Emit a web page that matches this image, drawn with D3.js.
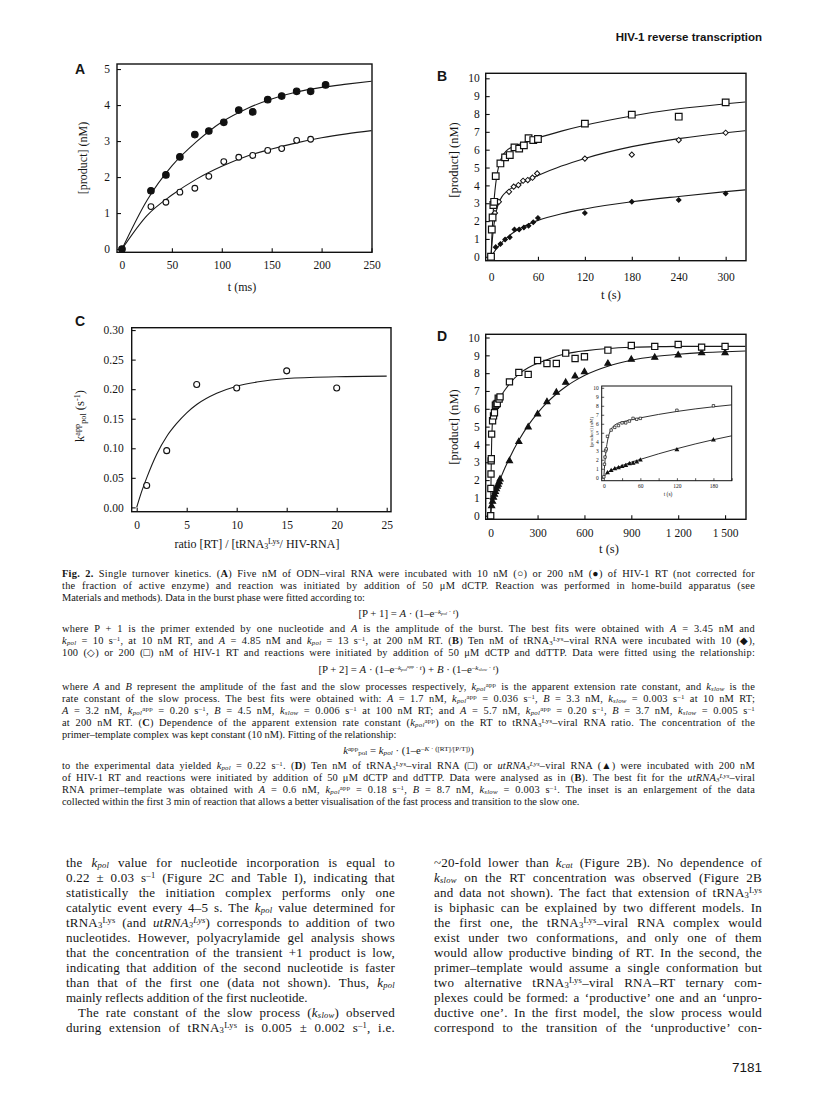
<!DOCTYPE html>
<html lang="en">
<head>
<meta charset="utf-8">
<title>HIV-1 reverse transcription - Fig. 2</title>
<script src="https://d3js.org/d3.v7.min.js"></script>
<style>
  body { margin: 0; background: #fff; }
  svg text { font-family: "Liberation Serif", "Times New Roman", serif; fill: #151515; white-space: pre; }
  svg text.sans { font-family: "Liberation Sans", Arial, sans-serif; font-weight: bold; }
  .axis path { display: none; }
  .axis line { stroke: #111; stroke-width: 1.1; }
</style>
</head>
<body>
<script>
// ---- Panel A : ODN-viral RNA, t in ms ----
var aHighTime = [0, 29, 44, 58, 73, 87, 102, 117, 131, 146, 160, 175, 189, 204];
var aHigh = [0, 1.62, 2.06, 2.56, 3.18, 3.28, 3.52, 3.86, 3.81, 4.15, 4.25, 4.38, 4.38, 4.56]; // 200 nM RT
var aLowTime = [29, 44, 58, 73, 87, 102, 117, 131, 146, 160, 175, 189];
var aLow = [1.18, 1.30, 1.58, 1.69, 2.02, 2.43, 2.55, 2.60, 2.74, 2.79, 3.02, 3.05]; // 10 nM RT
var aFitTime = [0, 25, 50, 75, 100, 125, 150, 175, 200, 225, 250];
var aFitHigh = [0, 1.35, 2.31, 2.99, 3.53, 3.9, 4.17, 4.36, 4.49, 4.58, 4.66];
var aFitLow = [0, 0.93, 1.5, 1.95, 2.3, 2.58, 2.78, 2.95, 3.09, 3.2, 3.29];
var aXTicks = [0, 50, 100, 150, 200, 250];
var aYTicks = [0, 1, 2, 3, 4, 5];

// ---- Panel B : tRNA3Lys-viral RNA, t in s ----
var b200Time = [0, 1, 2, 3, 4, 6, 12, 18, 24, 30, 36, 42, 48, 54, 60, 120, 180, 240, 300];
var b200 = [0, 1.53, 2.2, 2.9, 3.08, 4.52, 5.23, 5.57, 5.7, 6.13, 6.06, 6.24, 6.64, 6.54, 6.6, 7.46, 7.96, 7.85, 8.65];
var b100Time = [2, 5, 10, 23, 29, 35, 41, 47, 53, 59, 120, 180, 240, 300];
var b100 = [2.3, 2.45, 3.08, 3.64, 3.93, 4.02, 4.26, 4.3, 4.43, 4.67, 5.5, 5.72, 6.54, 6.95];
var b10Time = [0, 6, 12, 18, 24, 30, 36, 42, 48, 54, 60, 120, 180, 240, 300];
var b10 = [0, 0.54, 0.71, 0.97, 1.1, 1.53, 1.53, 1.64, 1.74, 1.94, 2.17, 2.45, 3.08, 3.18, 3.55];
var bFitTime = [0, 1, 2, 3, 4, 5, 7, 10, 14, 20, 30, 45, 60, 90, 120, 180, 240, 300, 325];
var bFit200 = [0, 1.05, 1.92, 2.62, 3.21, 3.69, 4.42, 5.11, 5.6, 5.95, 6.2, 6.44, 6.66, 7.04, 7.37, 7.89, 8.29, 8.57, 8.67];
var bFit100 = [0, 0.61, 1.11, 1.52, 1.87, 2.15, 2.6, 3.03, 3.37, 3.65, 3.94, 4.26, 4.55, 5.08, 5.51, 6.17, 6.62, 6.95, 7.06];
var bFit10 = [0, 0.07, 0.14, 0.2, 0.27, 0.33, 0.45, 0.61, 0.81, 1.06, 1.4, 1.77, 2.04, 2.41, 2.68, 3.08, 3.38, 3.65, 3.75];
var bXTicks = [0, 60, 120, 180, 240, 300];
var bYTicks = [0, 1, 2, 3, 4, 5, 6, 7, 8, 9, 10];

// ---- Panel C : kpol app vs ratio ----
var cRatio = [1, 3, 6, 10, 15, 20];
var cK = [0.037, 0.096, 0.208, 0.202, 0.231, 0.202];
var cFitRatio = [0, 0.5, 1, 2, 3, 4, 5, 6, 8, 10, 12, 15, 20, 25];
var cFitK = [0, 0.027, 0.05, 0.09, 0.12, 0.142, 0.16, 0.174, 0.193, 0.205, 0.212, 0.218, 0.221, 0.222];
var cXTicks = [0, 5, 10, 15, 20, 25];
var cYTicks = [0, 0.05, 0.10, 0.15, 0.20, 0.25, 0.30];

// ---- Panel D : tRNA vs utRNA, 200 nM RT ----
var dSqTime = [0, 1, 2, 3, 4, 6, 12, 18, 24, 30, 36, 42, 48, 54, 60, 120, 180, 240, 300, 360, 420, 480, 540, 600, 750, 900, 1050, 1200, 1350, 1500];
var dSq = [0, 1.53, 2.34, 3.08, 3.2, 4.58, 5.33, 5.6, 5.78, 6.2, 6.26, 6.3, 6.6, 6.55, 6.67, 7.51, 8.04, 7.93, 8.71, 8.54, 8.54, 9.12, 8.82, 8.92, 9.29, 9.55, 9.5, 9.61, 9.46, 9.5];
var dTriTime = [6, 12, 18, 24, 30, 36, 42, 48, 54, 60, 120, 180, 240, 300, 360, 420, 480, 540, 600, 750, 900, 1050, 1200, 1350, 1500];
var dTri = [0.55, 0.8, 1.03, 1.2, 1.35, 1.5, 1.65, 1.75, 1.9, 2.05, 3.08, 4.15, 4.97, 5.7, 6.39, 6.92, 7.48, 7.83, 8.07, 8.54, 8.77, 8.88, 9.01, 9.14, 9.14];
var dFitTime = [0, 2, 4, 6, 10, 15, 20, 30, 45, 60, 90, 120, 180, 240, 300, 360, 420, 480, 540, 600, 750, 900, 1050, 1200, 1350, 1500, 1630];
var dFitSq = [0, 1.92, 3.21, 4.09, 5.11, 5.69, 5.95, 6.2, 6.44, 6.66, 7.04, 7.4, 7.95, 8.3, 8.55, 8.75, 8.95, 9.08, 9.18, 9.25, 9.38, 9.45, 9.48, 9.5, 9.5, 9.5, 9.5];
var dFitTri = [0, 0.23, 0.41, 0.56, 0.76, 0.94, 1.09, 1.35, 1.73, 2.04, 2.66, 3.23, 4.23, 5.07, 5.76, 6.34, 6.83, 7.24, 7.58, 7.87, 8.39, 8.72, 8.93, 9.06, 9.15, 9.2, 9.24];
var dXTicks = [0, 300, 600, 900, 1200, 1500];
var dYTicks = [0, 1, 2, 3, 4, 5, 6, 7, 8, 9, 10];

// ---- inset of D : first 3 min ----
var inSqTime = [0, 1, 2, 3, 4, 6, 12, 18, 24, 30, 36, 42, 48, 54, 60, 120, 180];
var inSq = [0.1, 1.5, 2.3, 3.0, 3.2, 4.6, 5.3, 5.6, 5.8, 6.1, 6.1, 6.3, 6.6, 6.5, 6.6, 7.5, 8.0];
var inTriTime = [6, 12, 18, 24, 30, 36, 42, 48, 54, 60, 120, 180];
var inTri = [0.55, 0.8, 1.0, 1.1, 1.25, 1.35, 1.55, 1.6, 1.75, 1.95, 3.1, 4.2];
var inFitTime = [0, 1, 2, 3, 4, 5, 7, 10, 14, 20, 30, 45, 60, 90, 120, 180, 210];
var inFitSq = [0, 1.05, 1.92, 2.62, 3.21, 3.69, 4.42, 5.11, 5.6, 5.95, 6.2, 6.44, 6.66, 7.04, 7.37, 7.89, 8.1];
var inFitTri = [0, 0.13, 0.23, 0.33, 0.41, 0.49, 0.61, 0.76, 0.91, 1.09, 1.35, 1.73, 2.04, 2.66, 3.23, 4.23, 4.66];
var inXTicks = [0, 30, 60, 90, 120, 150, 180, 210];
var inYTicks = [0, 1, 2, 3, 4, 5, 6, 7, 8, 9, 10];

// caption lines: [markup, justify, baseline]
var captionLines = [
  ["@Fig. 2.@ Single turnover kinetics. (@A@) Five nM of ODN–viral RNA were incubated with 10 nM (○) or 200 nM (●) of HIV-1 RT (not corrected for", true, 577],
  ["the fraction of active enzyme) and reaction was initiated by addition of 50 μM dCTP. Reaction was performed in home-build apparatus (see", true, 589],
  ["Materials and methods). Data in the burst phase were fitted according to:", false, 601],
  ["where P + 1 is the primer extended by one nucleotide and *A* is the amplitude of the burst. The best fits were obtained with *A* = 3.45 nM and", true, 632],
  ["*k*_{*pol*} = 10 s^{–1}, at 10 nM RT, and *A* = 4.85 nM and *k*_{*pol*} = 13 s^{–1}, at 200 nM RT. (@B@) Ten nM of tRNA_{3}^{Lys}–viral RNA were incubated with 10 (◆),", true, 644],
  ["100 (◇) or 200 (□) nM of HIV-1 RT and reactions were initiated by addition of 50 μM dCTP and ddTTP. Data were fitted using the relationship:", true, 656],
  ["where *A* and *B* represent the amplitude of the fast and the slow processes respectively, *k*_{*pol*}^{app} is the apparent extension rate constant, and *k*_{*slow*} is the", true, 690],
  ["rate constant of the slow process. The best fits were obtained with: *A* = 1.7 nM, *k*_{*pol*}^{app} = 0.036 s^{–1}, *B* = 3.3 nM, *k*_{*slow*} = 0.003 s^{–1} at 10 nM RT;", true, 702],
  ["*A* = 3.2 nM, *k*_{*pol*}^{app} = 0.20 s^{–1}, *B* = 4.5 nM, *k*_{*slow*} = 0.006 s^{–1} at 100 nM RT; and *A* = 5.7 nM, *k*_{*pol*}^{app} = 0.20 s^{–1}, *B* = 3.7 nM, *k*_{*slow*} = 0.005 s^{–1}", true, 714],
  ["at 200 nM RT. (@C@) Dependence of the apparent extension rate constant (*k*_{*pol*}^{app}) on the RT to tRNA_{3}^{Lys}–viral RNA ratio. The concentration of the", true, 726],
  ["primer–template complex was kept constant (10 nM). Fitting of the relationship:", false, 738],
  ["to the experimental data yielded *k*_{*pol*} = 0.22 s^{–1}. (@D@) Ten nM of tRNA_{3}^{Lys}–viral RNA (□) or *utRNA*_{*3*}^{*Lys*}–viral RNA (▲) were incubated with 200 nM", true, 769],
  ["of HIV-1 RT and reactions were initiated by addition of 50 μM dCTP and ddTTP. Data were analysed as in (@B@). The best fit for the *utRNA*_{*3*}^{*Lys*}–viral", true, 781],
  ["RNA primer–template was obtained with *A* = 0.6 nM, *k*_{*pol*}^{app} = 0.18 s^{–1}, *B* = 8.7 nM, *k*_{*slow*} = 0.003 s^{–1}. The inset is an enlargement of the data", true, 793],
  ["collected within the first 3 min of reaction that allows a better visualisation of the fast process and transition to the slow one.", false, 805]
];
var equations = [
  ["[P + 1] = *A* · (1–e^{–*k*_{*pol*} · *t*})", 617],
  ["[P + 2] = *A* · (1–e^{–*k*_{*pol*}^{app} · *t*}) + *B* · (1–e^{–*k*_{*slow*} · *t*})", 673],
  ["*k*^{app}_{pol} = *k*_{*pol*} · (1–e^{–*K* · ([RT]/[P/T])})", 754]
];
var leftColumn = [
  ["the *k*_{*pol*} value for nucleotide incorporation is equal to", true],
  ["0.22 ± 0.03 s^{–1} (Figure 2C and Table I), indicating that", true],
  ["statistically the initiation complex performs only one", true],
  ["catalytic event every 4–5 s. The *k*_{*pol*} value determined for", true],
  ["tRNA_{3}^{Lys} (and *utRNA*_{*3*}^{*Lys*}) corresponds to addition of two", true],
  ["nucleotides. However, polyacrylamide gel analysis shows", true],
  ["that the concentration of the transient +1 product is low,", true],
  ["indicating that addition of the second nucleotide is faster", true],
  ["than that of the first one (data not shown). Thus, *k*_{*pol*}", true],
  ["mainly reflects addition of the first nucleotide.", false],
  ["The rate constant of the slow process (*k*_{*slow*}) observed", true, 12],
  ["during extension of tRNA_{3}^{Lys} is 0.005 ± 0.002 s^{–1}, i.e.", true]
];
var rightColumn = [
  ["~20-fold lower than *k*_{*cat*} (Figure 2B). No dependence of", true],
  ["*k*_{*slow*} on the RT concentration was observed (Figure 2B", true],
  ["and data not shown). The fact that extension of tRNA_{3}^{Lys}", true],
  ["is biphasic can be explained by two different models. In", true],
  ["the first one, the tRNA_{3}^{Lys}–viral RNA complex would", true],
  ["exist under two conformations, and only one of them", true],
  ["would allow productive binding of RT. In the second, the", true],
  ["primer–template would assume a single conformation but", true],
  ["two alternative tRNA_{3}^{Lys}–viral RNA–RT ternary com-", true],
  ["plexes could be formed: a ‘productive’ one and an ‘unpro-", true],
  ["ductive one’. In the first model, the slow process would", true],
  ["correspond to the transition of the ‘unproductive’ con-", true]
];

var svg = d3.select("body").append("svg")
  .attr("width", 816)
  .attr("height", 1104);

// small markup: ^{} super, _{} sub, *..* italic, @..@ bold
function rich(parent, str, o) {
  var t = parent.append("text")
    .attr("x", o.x).attr("y", o.y)
    .style("font-size", o.size + "px");
  if (o.anchor) t.attr("text-anchor", o.anchor);
  if (o.transform) t.attr("transform", o.transform);
  if (o.cls) t.attr("class", o.cls);
  var stack = [{shift: 0, size: o.size, it: false, bf: false}];
  var segs = [], buf = "";
  function top() { return stack[stack.length - 1]; }
  function flush() {
    if (!buf) return;
    var c = top();
    segs.push({text: buf, shift: c.shift, size: c.size, it: c.it, bf: c.bf});
    buf = "";
  }
  for (var i = 0; i < str.length; i++) {
    var ch = str[i];
    if ((ch === "^" || ch === "_") && str[i + 1] === "{") {
      flush();
      var c = top();
      stack.push({shift: c.shift + (ch === "^" ? -0.3 : 0.13) * c.size, size: c.size * 0.66, it: c.it, bf: c.bf});
      i++;
    } else if (ch === "}") { flush(); stack.pop(); }
    else if (ch === "*") { flush(); top().it = !top().it; }
    else if (ch === "@") { flush(); top().bf = !top().bf; }
    else buf += ch;
  }
  flush();
  var prevShift = 0;
  segs.forEach(function(s) {
    var ts = t.append("tspan").text(s.text).style("font-size", s.size + "px");
    if (s.shift !== prevShift) ts.attr("dy", s.shift - prevShift);
    if (s.it) ts.style("font-style", "italic");
    if (s.bf) ts.style("font-weight", "bold");
    prevShift = s.shift;
  });
  if (o.width) {
    // justify: part of the gap to letters, the rest to word spaces
    var natural = t.node().getComputedTextLength();
    var txt = t.text();
    var spaces = (txt.match(/ /g) || []).length;
    var extra = o.width - natural;
    var ls = 0;
    if (extra > 0) {
      ls = Math.min(0.25, extra * 0.35 / txt.length);
      t.attr("letter-spacing", ls);
      extra = o.width - t.node().getComputedTextLength();
    }
    if (spaces) t.attr("word-spacing", extra / spaces);
  }
  return t;
}

function drawPanel(p) {
  var x = d3.scaleLinear().domain(p.xDomain).range([p.left, p.right]);
  var y = d3.scaleLinear().domain(p.yDomain).range([p.bottom, p.top]);
  var g = svg.append("g");
  g.append("rect")
    .attr("x", p.left).attr("y", p.top)
    .attr("width", p.right - p.left).attr("height", p.bottom - p.top)
    .attr("fill", "#fff");

  var xa = g.append("g").attr("class", "axis")
    .attr("transform", "translate(0," + p.bottom + ")")
    .call(d3.axisBottom(x).tickValues(p.xTicks).tickSizeInner(-p.tick).tickSizeOuter(0)
      .tickPadding(p.xPad).tickFormat(p.xFormat));
  var ya = g.append("g").attr("class", "axis")
    .attr("transform", "translate(" + p.left + ",0)")
    .call(d3.axisLeft(y).tickValues(p.yTicks).tickSizeInner(-p.tick).tickSizeOuter(0)
      .tickPadding(p.yPad).tickFormat(p.yFormat));
  xa.selectAll("text").style("font-size", p.fs + "px");
  ya.selectAll("text").style("font-size", p.fs + "px");
  if (p.tickW) g.selectAll(".axis line").style("stroke-width", p.tickW);

  //frame
  g.append("rect")
    .attr("x", p.left).attr("y", p.top)
    .attr("width", p.right - p.left).attr("height", p.bottom - p.top)
    .attr("fill", "none").attr("stroke", "#111").attr("stroke-width", p.frameW);
  return {x: x, y: y, g: g};
}

function fitLine(P, xs, ys, w) {
  var line = d3.line()
    .x(function(d) { return P.x(d[0]); })
    .y(function(d) { return P.y(d[1]); })
    .curve(d3.curveMonotoneX);
  P.g.append("path")
    .attr("d", line(d3.zip(xs, ys)))
    .attr("fill", "none")
    .attr("stroke", "#1a1a1a")
    .attr("stroke-width", w || 1.1);
}

function marks(P, xs, ys, type, size, filled, rot, sw) {
  P.g.append("g").selectAll("path")
    .data(d3.zip(xs, ys))
    .join("path")
    .attr("d", d3.symbol().type(type).size(size))
    .attr("transform", function(d) {
      return "translate(" + P.x(d[0]) + "," + P.y(d[1]) + ")" + (rot ? " rotate(45)" : "");
    })
    .attr("fill", filled ? "#111" : "#fff")
    .attr("stroke", "#111")
    .attr("stroke-width", sw || 1.1);
}

var fmtInt = d3.format("d");

// ---------- A ----------
var A = drawPanel({left: 117, right: 372, top: 64, bottom: 252.3,
  xDomain: [-5, 250.5], yDomain: [-0.09, 5.14], xTicks: aXTicks, yTicks: aYTicks,
  tick: 4, xPad: 8.5, yPad: 7, fs: 11.5, frameW: 1.4, xFormat: fmtInt, yFormat: fmtInt});
fitLine(A, aFitTime, aFitHigh);
fitLine(A, aFitTime, aFitLow);
marks(A, aLowTime, aLow, d3.symbolCircle, 26, false);
marks(A, aHighTime, aHigh, d3.symbolCircle, 34, true);

// ---------- B ----------
var B = drawPanel({left: 485.7, right: 746, top: 73.3, bottom: 260.7,
  xDomain: [-6.8, 326], yDomain: [-0.22, 10.28], xTicks: bXTicks, yTicks: bYTicks,
  tick: 4, xPad: 12, yPad: 6, fs: 11.5, frameW: 1.4, xFormat: fmtInt, yFormat: fmtInt});
fitLine(B, bFitTime, bFit200);
fitLine(B, bFitTime, bFit100);
fitLine(B, bFitTime, bFit10);
marks(B, b10Time, b10, d3.symbolSquare, 10, true, true);
marks(B, b100Time, b100, d3.symbolSquare, 14, false, true, 1);
marks(B, b200Time, b200, d3.symbolSquare, 44, false, false, 1.2);

// ---------- C ----------
var C = drawPanel({left: 131.7, right: 391, top: 327.7, bottom: 511.7,
  xDomain: [-0.5, 25.43], yDomain: [-0.0073, 0.304], xTicks: cXTicks, yTicks: cYTicks,
  tick: 4, xPad: 9, yPad: 8, fs: 11.5, frameW: 1.4, xFormat: fmtInt, yFormat: d3.format(".2f")});
fitLine(C, cFitRatio, cFitK);
marks(C, cRatio, cK, d3.symbolCircle, 28, false);

// ---------- D ----------
var D = drawPanel({left: 485.7, right: 746, top: 334.3, bottom: 519.3,
  xDomain: [-32, 1634], yDomain: [-0.2, 10.18], xTicks: dXTicks, yTicks: dYTicks,
  tick: 4, xPad: 10, yPad: 6, fs: 11.5, frameW: 1.4,
  xFormat: function(d) { return d3.format(",")(d).replace(",", "\u00a0"); }, yFormat: fmtInt});
fitLine(D, dFitTime, dFitSq);
fitLine(D, dFitTime, dFitTri);
marks(D, dTriTime, dTri, d3.symbolTriangle, 16, true);
marks(D, dSqTime, dSq, d3.symbolSquare, 38, false, false, 1.2);

// ---------- inset ----------
var I = drawPanel({left: 601.7, right: 731.7, top: 386, bottom: 480.7,
  xDomain: [-3.5, 210], yDomain: [-0.33, 10.2], xTicks: inXTicks, yTicks: inYTicks,
  tick: 2.5, xPad: 3.5, yPad: 3, fs: 5.5, frameW: 1, tickW: 0.7,
  xFormat: function(d) { return d % 60 === 0 ? d : ""; }, yFormat: fmtInt});
fitLine(I, inFitTime, inFitSq, 0.9);
fitLine(I, inFitTime, inFitTri, 0.9);
marks(I, inTriTime, inTri, d3.symbolTriangle, 4, true);
marks(I, inSqTime, inSq, d3.symbolSquare, 6, false, false, 0.7);

// ---------- axis titles & panel letters ----------
var T = svg.append("g");
rich(T, "t (ms)", {x: 242, y: 291, size: 12, anchor: "middle"});
rich(T, "[product] (nM)", {x: 0, y: 0, size: 12, anchor: "middle", transform: "translate(86.5,158) rotate(-90)"});
rich(T, "t (s)", {x: 611, y: 299, size: 12.5, anchor: "middle"});
rich(T, "[product] (nM)", {x: 0, y: 0, size: 12.5, anchor: "middle", transform: "translate(457.5,160) rotate(-90)"});
rich(T, "ratio [RT] / [tRNA_{3}^{Lys}/ HIV-RNA]", {x: 257, y: 547.5, size: 12, anchor: "middle"});
rich(T, "k^{app}_{pol} (s^{-1})", {x: 0, y: 0, size: 12.5, anchor: "middle", transform: "translate(84,416) rotate(-90)"});
rich(T, "t (s)", {x: 609, y: 552.5, size: 12.5, anchor: "middle"});
rich(T, "[product] (nM)", {x: 0, y: 0, size: 12.5, anchor: "middle", transform: "translate(457.5,427) rotate(-90)"});
rich(T, "t (s)", {x: 668, y: 496, size: 5.5, anchor: "middle"});
rich(T, "[product] (nM)", {x: 0, y: 0, size: 5, anchor: "middle", transform: "translate(592.5,432) rotate(-90)"});

rich(T, "A", {x: 75, y: 73.5, size: 14, cls: "sans"});
rich(T, "B", {x: 437, y: 80.5, size: 14, cls: "sans"});
rich(T, "C", {x: 75, y: 325.5, size: 14, cls: "sans"});
rich(T, "D", {x: 437, y: 340.5, size: 14, cls: "sans"});

// ---------- running head & page number ----------
rich(svg, "HIV-1 reverse transcription", {x: 762, y: 41, size: 11.5, anchor: "end", cls: "sans"});
rich(svg, "7181", {x: 762, y: 1072, size: 13.5, anchor: "end", cls: "sans"})
  .style("font-weight", "normal");

// ---------- caption ----------
var capLeft = 62, capRight = 755;
captionLines.forEach(function(l) {
  rich(svg, l[0], {x: capLeft, y: l[2], size: 10.4, width: l[1] ? capRight - capLeft : null});
});
equations.forEach(function(e) {
  rich(svg, e[0], {x: (capLeft + capRight) / 2, y: e[1], size: 10.8, anchor: "middle"});
});

// ---------- body text, two columns ----------
function column(lines, x0, x1) {
  lines.forEach(function(l, i) {
    var indent = l[2] || 0;
    rich(svg, l[0], {x: x0 + indent, y: 866.5 + i * 15, size: 13,
      width: l[1] ? (x1 - x0 - indent) : null});
  });
}
column(leftColumn, 66, 395);
column(rightColumn, 434, 762);
</script>
</body>
</html>
